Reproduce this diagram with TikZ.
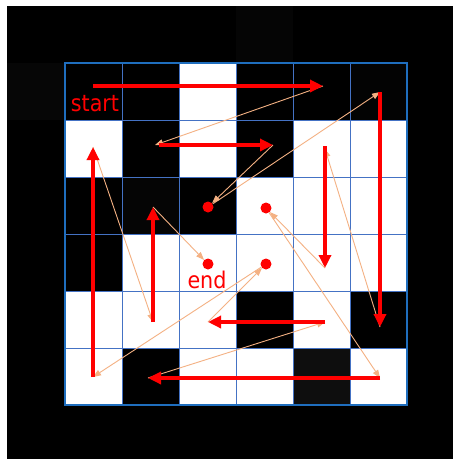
\documentclass[tikz,border=0pt]{standalone}
\usepackage{fontspec}
\newfontfamily\lblfont{DejaVu Sans Condensed}
\usetikzlibrary{arrows.meta}
\definecolor{gridblue}{RGB}{68,114,196}
\definecolor{borderblue}{RGB}{31,110,190}
\definecolor{peach}{RGB}{244,177,131}
\definecolor{pathred}{RGB}{255,0,0}
\definecolor{faintA}{RGB}{6,6,6}
\definecolor{faintB}{RGB}{3,3,3}
\definecolor{faintC}{RGB}{5,5,5}
\definecolor{faintD}{RGB}{14,14,14}
\begin{document}
\begin{tikzpicture}[x=1pt,y=-1pt,
  redarrow/.style={draw=pathred, line width=3.6pt, -{Triangle[length=13pt,width=12pt]}},
  thinarrow/.style={draw=peach, line width=0.9pt, -{Triangle[length=8pt,width=6pt]}},
  dot/.style={circle, fill=pathred, inner sep=0pt, minimum size=11pt},
  lbl/.style={text=pathred, font=\lblfont\fontsize{23}{23}\selectfont, anchor=base, inner sep=0pt},
  cellw/.style={fill=white},
  gridline/.style={draw=gridblue, line width=1pt},
  border/.style={draw=borderblue, line width=1.4pt}]
\useasboundingbox (0,0) rectangle (453,459);
% background
\fill[white] (0,0) rectangle (453,459);
\fill[black] (7,6) rectangle (453,459);
\fill[faintA] (7,63) rectangle (65,120);
\fill[faintC] (236,6) rectangle (293,63);
% cells
\foreach \r/\c in {0/2, 1/0,1/2,1/4,1/5, 2/3,2/4,2/5, 3/1,3/2,3/3,3/4,3/5, 4/0,4/1,4/2,4/4, 5/0,5/2,5/3,5/5}
  \fill[cellw] ({65+57*\c},{63+57*\r}) rectangle ++(57,57);
\fill[faintB] ({65+57*5},{63}) rectangle ++(57,57);
\fill[faintC] ({65+57*1},{63+57*2}) rectangle ++(57,57);
\fill[faintD] ({65+57*4},{63+57*5}) rectangle ++(57,57);
% grid
\foreach \i in {1,...,5} {
  \draw[gridline] ({65+57*\i},63) -- ({65+57*\i},405);
  \draw[gridline] (65,{63+57*\i}) -- (407,{63+57*\i});
}
\draw[border] (65,63) rectangle (407,405);
% points
\coordinate (S1) at (93,86);   \coordinate (E1) at (323,86);
\coordinate (S2) at (159,145); \coordinate (E2) at (273,145);
\coordinate (S3) at (93,377);  \coordinate (E3) at (93,147);
\coordinate (S4) at (153,322); \coordinate (E4) at (153,207);
\coordinate (S5) at (325,146); \coordinate (E5) at (325,268);
\coordinate (S6) at (380,92);  \coordinate (E6) at (380,327);
\coordinate (S7) at (325,322); \coordinate (E7) at (208,322);
\coordinate (S8) at (380,378); \coordinate (E8) at (148,378);
\coordinate (T2) at (155,145);
\coordinate (T5) at (325,149);
% dots
\node[dot] (D1) at (208,207) {};
\node[dot] (D2) at (266,208) {};
\node[dot] (D3) at (208,264) {};
\node[dot] (D4) at (266,264) {};
% labels
\node[lbl] (start) at (95,111.5) {start};
\node[lbl] (end) at (207,288) {end};
% thin connectors
\draw[thinarrow] (E1) -- (T2);
\draw[thinarrow] (E2) -- (D1);
\draw[thinarrow] (D1) -- (S6);
\draw[thinarrow] (E6) -- (T5);
\draw[thinarrow] (E5) -- (D2);
\draw[thinarrow] (D2) -- (S8);
\draw[thinarrow] (E8) -- (S7);
\draw[thinarrow] (E7) -- (D4);
\draw[thinarrow] (D4) -- (S3);
\draw[thinarrow] (E3) -- (S4);
\draw[thinarrow] (E4) -- (D3);
% red arrows
\draw[redarrow] (S1) -- (E1);
\draw[redarrow] (S2) -- (E2);
\draw[redarrow] (S3) -- (E3);
\draw[redarrow] (S4) -- (E4);
\draw[redarrow] (S5) -- (E5);
\draw[redarrow] (S6) -- (E6);
\draw[redarrow] (S7) -- (E7);
\draw[redarrow] (S8) -- (E8);
\end{tikzpicture}
\end{document}
